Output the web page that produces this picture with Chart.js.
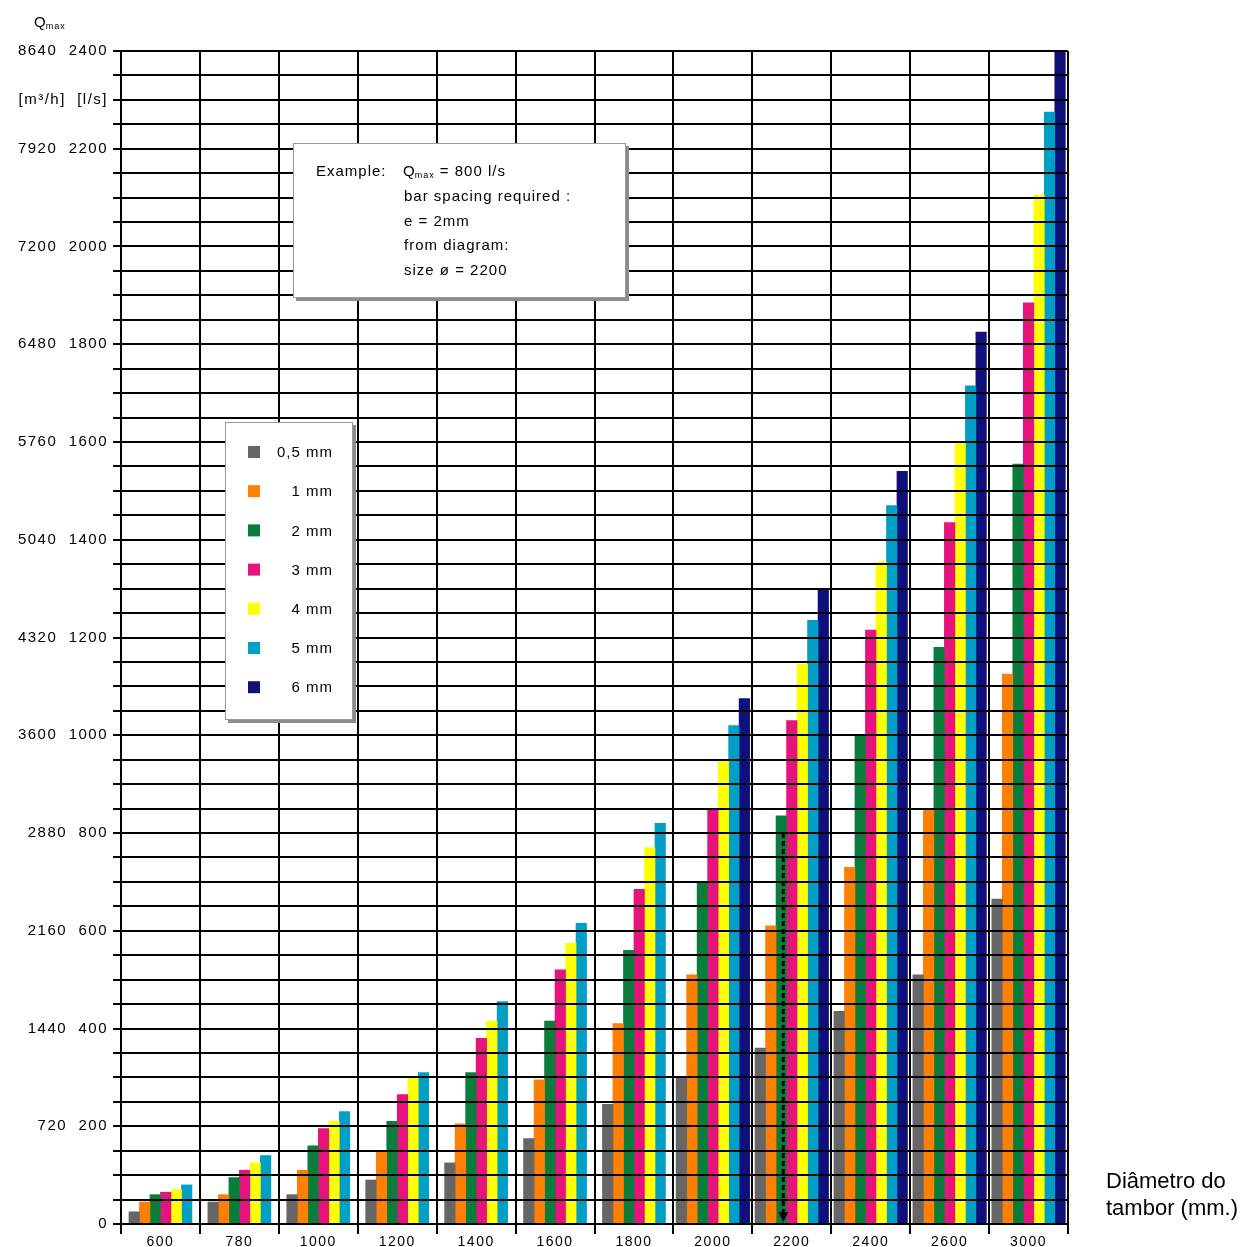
<!DOCTYPE html>
<html><head><meta charset="utf-8">
<script src="https://cdn.jsdelivr.net/npm/chart.js@4/dist/chart.umd.min.js"></script>
<style>html,body{margin:0;padding:0;background:#fff;} #wrap{width:1256px;height:1247px;}</style>
</head><body>
<div id="wrap"><canvas id="c" width="1256" height="1247"></canvas></div>
<script>
// ---- data ----
const categories = ['600','780','1000','1200','1400','1600','1800','2000','2200','2400','2600','3000'];
const seriesLabels = ['0,5 mm','1 mm','2 mm','3 mm','4 mm','5 mm','6 mm'];
const s05 = [25, 45, 60, 90, 125, 175, 245, 300, 360, 435, 510, 665];
const s1  = [45, 60, 110, 150, 205, 295, 410, 510, 610, 730, 850, 1125];
const s2  = [60, 95, 160, 210, 310, 415, 560, 700, 835, 1000, 1180, 1555];
const s3  = [65, 110, 195, 265, 380, 520, 685, 850, 1030, 1215, 1435, 1885];
const s4  = [70, 125, 210, 300, 415, 575, 770, 950, 1145, 1355, 1600, 2105];
const s5  = [80, 140, 230, 310, 455, 615, 820, 1020, 1235, 1470, 1715, 2275];
const s6  = [null, null, null, null, null, null, null, 1075, 1300, 1540, 1825, 2400];
const lsTicks  = [0, 200, 400, 600, 800, 1000, 1200, 1400, 1600, 1800, 2000, 2200, 2400];
const m3hTicks = [0, 720, 1440, 2160, 2880, 3600, 4320, 5040, 5760, 6480, 7200, 7920, 8640];
const unitTickValue = 2300;
const unitTickLabel = '[m\u00b3/h]  [l/s]';
const exampleLines = ['bar spacing required :', 'e = 2mm', 'from diagram:', 'size \u00f8 = 2200'];
const exampleFlow = 800;           // l/s
const exampleSeriesIndex = 2;      // 2 mm
const exampleCategory = '2200';
const xTitle = ['Di\u00e2metro do', 'tambor (mm.)'];

const colors = ['#666666', '#ff7f00', '#0a7d3c', '#e6137d', '#ffff00', '#00a0c6', '#10107c'];
const seriesData = [s05, s1, s2, s3, s4, s5, s6];

const FONT = "'Liberation Sans', Arial, sans-serif";

function yLabel(v) {
  if (v === unitTickValue) return unitTickLabel;
  const i = lsTicks.indexOf(v);
  if (i < 0) return '';
  if (v === 0) return '0';
  return m3hTicks[i] + '  ' + lsTicks[i];
}

function drawQmax(ctx, x, y, size) {
  ctx.textBaseline = 'alphabetic';
  ctx.textAlign = 'left';
  ctx.font = size + 'px ' + FONT;
  ctx.fillText('Q', x, y);
  const w = ctx.measureText('Q').width;
  ctx.font = Math.round(size * 0.62) + 'px ' + FONT;
  ctx.fillText('max', x + w - 1, y + 2);
  return x + w - 1 + ctx.measureText('max').width;
}

function box(ctx, x, y, w, h) {
  ctx.fillStyle = '#8c8c8c';
  ctx.fillRect(x + 3, y + 3, w, h);
  ctx.fillStyle = '#ffffff';
  ctx.fillRect(x, y, w, h);
  ctx.strokeStyle = '#9a9a9a';
  ctx.lineWidth = 1;
  ctx.strokeRect(x + 0.5, y + 0.5, w - 1, h - 1);
}

const spacingPlugin = {
  id: 'spacing',
  beforeLayout(chart) { chart.ctx.letterSpacing = '1.5px'; },
  beforeDraw(chart) {
    chart.ctx.letterSpacing = '1.5px';
    const ctx = chart.ctx;
    ctx.save();
    ctx.fillStyle = '#fff';
    ctx.fillRect(0, 0, chart.width, chart.height);
    ctx.restore();
  }
};

const annotPlugin = {
  id: 'annot',
  afterDraw(chart) {
    const ctx = chart.ctx;
    const ys = chart.scales.y;
    ctx.save();
    ctx.fillStyle = '#000';
    ctx.letterSpacing = '1px';
    // Qmax header
    drawQmax(ctx, 34, 27, 15);

    // Example box
    box(ctx, 293, 143, 333, 155);
    ctx.fillStyle = '#000';
    ctx.font = '15px ' + FONT;
    ctx.textBaseline = 'alphabetic';
    ctx.textAlign = 'left';
    ctx.fillText('Example:', 316, 176);
    let xe = drawQmax(ctx, 403, 176, 15);
    ctx.font = '15px ' + FONT;
    ctx.fillText(' = ' + exampleFlow + ' l/s', xe, 176);
    exampleLines.forEach((t, i) => ctx.fillText(t, 404, 201 + i * 24.5));

    // Legend box
    box(ctx, 225, 422, 128, 298);
    chart.data.datasets.forEach((ds, i) => {
      const cy = 452 + i * 39.2;
      ctx.fillStyle = ds.backgroundColor;
      ctx.fillRect(248, cy - 6, 12, 12);
      ctx.fillStyle = '#000';
      ctx.font = '15px ' + FONT;
      ctx.textAlign = 'right';
      ctx.textBaseline = 'middle';
      ctx.fillText(ds.label, 333, cy + 1);
    });

    // Dashed arrow at example bar
    const ci = categories.indexOf(exampleCategory);
    const bar = chart.getDatasetMeta(exampleSeriesIndex).data[ci];
    const ax = bar.x + 2;
    const y0 = ys.getPixelForValue(exampleFlow);
    const y1 = ys.getPixelForValue(0) - 2;
    ctx.strokeStyle = '#000';
    ctx.lineWidth = 3;
    ctx.setLineDash([5, 3]);
    ctx.beginPath();
    ctx.moveTo(ax, y0);
    ctx.lineTo(ax, y1 - 8);
    ctx.stroke();
    ctx.setLineDash([]);
    ctx.fillStyle = '#000';
    ctx.beginPath();
    ctx.moveTo(ax - 5, y1 - 10);
    ctx.lineTo(ax + 5, y1 - 10);
    ctx.lineTo(ax, y1);
    ctx.closePath();
    ctx.fill();

    // x axis title
    ctx.letterSpacing = '0px';
    ctx.font = '22px ' + FONT;
    ctx.textAlign = 'left';
    ctx.textBaseline = 'middle';
    ctx.fillStyle = '#000';
    ctx.fillText(xTitle[0], 1106, 1182);
    ctx.fillText(xTitle[1], 1106, 1209);
    ctx.restore();
  }
};

new Chart(document.getElementById('c'), {
  type: 'bar',
  data: {
    labels: categories,
    datasets: seriesData.map((d, i) => ({
      label: seriesLabels[i],
      data: d,
      backgroundColor: colors[i],
      borderWidth: 0,
      barThickness: 10.5,
      skipNull: true
    }))
  },
  options: {
    responsive: false,
    animation: false,
    devicePixelRatio: 1,
    layout: { padding: { left: 0, top: 51, right: 188, bottom: 0 } },
    plugins: { legend: { display: false }, tooltip: { enabled: false } },
    scales: {
      x: {
        offset: true,
        grid: { offset: true, color: '#000', lineWidth: 2, tickLength: 10, z: 1 },
        border: { color: '#000', width: 2, z: 1 },
        ticks: { color: '#000', font: { family: FONT, size: 14 }, padding: 0, maxRotation: 0, autoSkip: false },
        afterFit(s) { s.height = 23; }
      },
      y: {
        min: 0, max: 2400,
        grid: { color: '#000', lineWidth: 2, tickLength: 8, z: 1 },
        border: { color: '#000', width: 2, z: 1 },
        ticks: { stepSize: 50, maxTicksLimit: 100, autoSkip: false, color: '#000',
                 font: { family: FONT, size: 15 }, padding: 5, callback: (v) => yLabel(v) },
        afterFit(s) { s.width = 121; }
      }
    }
  },
  plugins: [spacingPlugin, annotPlugin]
});
</script>
</body></html>
